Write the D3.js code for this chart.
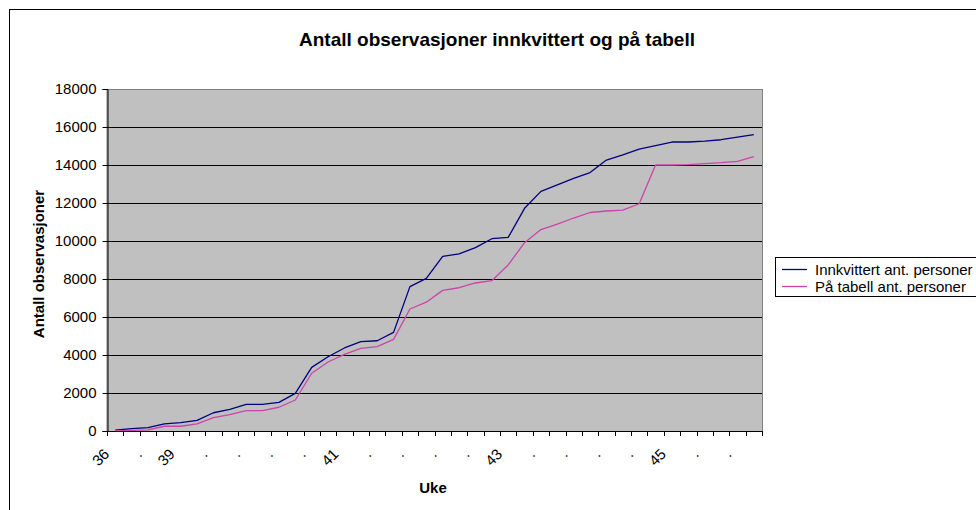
<!DOCTYPE html>
<html><head><meta charset="utf-8">
<script src="https://cdn.jsdelivr.net/npm/d3@7"></script>
<style>body{margin:0;background:#fff;} svg{display:block;font-family:Arial,"Liberation Sans",sans-serif;}</style>
</head><body><svg id="c" width="976" height="510"></svg>
<script>
const categories = ["36",".",".",".","39",".",".",".",".",".",
                    ".",".",".",".","41",".",".",".",".",".",
                    ".",".",".",".","43",".",".",".",".",".",
                    ".",".",".",".","45",".",".",".",".","."];
const innkvittert = [50,120,175,370,440,560,960,1140,1400,1400,
                     1510,1980,3350,3910,4370,4700,4750,5190,7600,8030,
                     9190,9320,9650,10120,10190,11720,12610,12950,13300,13600,
                     14260,14530,14840,15020,15210,15210,15260,15330,15470,15600];
const paTabell = [20,30,60,250,250,370,700,860,1070,1070,
                  1250,1630,3040,3630,4030,4350,4440,4820,6420,6780,
                  7400,7540,7790,7910,8740,9910,10600,10890,11210,11500,
                  11580,11630,11960,14000,14000,14020,14070,14120,14190,14440];
const yTicks = [0,2000,4000,6000,8000,10000,12000,14000,16000,18000];
const seriesNames = ["Innkvittert ant. personer","På tabell ant. personer"];
const seriesColors = ["#000080","#cc44aa"];
const titleText = "Antall observasjoner innkvittert og på tabell";
const yTitle = "Antall observasjoner";
const xTitle = "Uke";

const svg = d3.select("#c");
const P = {left:107, right:762, top:89, bottom:431};

// chart frame
svg.append("rect").attr("x",9.5).attr("y",9.5).attr("width",1000).attr("height",600)
  .attr("fill","#fff").attr("stroke","#000").attr("stroke-width",1);

const idx = d3.range(categories.length);
const x = d3.scaleBand().domain(idx).range([P.left,P.right]).padding(0);
const bw = x.bandwidth();
const y = d3.scaleLinear().domain([0,18000]).range([P.bottom,P.top]);

// plot background
svg.append("rect").attr("x",P.left).attr("y",P.top+0.5).attr("width",P.right-P.left+0.5).attr("height",P.bottom-P.top)
  .attr("fill","#c0c0c0").attr("stroke","#808080").attr("stroke-width",1);

// gridlines
svg.append("g").selectAll("line").data(yTicks.filter(t=>t>0 && t<18000)).join("line")
  .attr("x1",P.left).attr("x2",P.right).attr("y1",d=>Math.round(y(d))+0.5).attr("y2",d=>Math.round(y(d))+0.5)
  .attr("stroke","#000").attr("stroke-width",1);

// y axis
const ya = svg.append("g").attr("transform",`translate(${P.left+0.5},0)`)
  .call(d3.axisLeft(y).tickValues(yTicks).tickSize(5).tickPadding(6).tickFormat(d3.format("d")));
ya.selectAll("path").attr("stroke","#000");
ya.selectAll("line").attr("stroke","#000");
ya.selectAll("text").attr("font-size","15px").attr("fill","#000").attr("font-family","Arial, 'Liberation Sans', sans-serif");

// x axis line
svg.append("line").attr("x1",P.left).attr("x2",P.right+0.5).attr("y1",P.bottom+0.5).attr("y2",P.bottom+0.5).attr("stroke","#000");
// x ticks at category boundaries
const bounds = idx.map(i=>x(i)).concat([P.right]);
svg.append("g").selectAll("line").data(bounds).join("line")
  .attr("x1",d=>Math.round(d)+0.5).attr("x2",d=>Math.round(d)+0.5).attr("y1",P.bottom).attr("y2",P.bottom+5)
  .attr("stroke","#000");
// x labels (every other category)
svg.append("g").selectAll("text").data(idx.filter(i=>i%2===0)).join("text")
  .attr("transform",i=>`translate(${x(i)+bw/2-5},455) rotate(-45)`)
  .attr("text-anchor","end").attr("font-size","15px").attr("fill","#000")
  .text(i=>categories[i]);

// series lines
const line = d3.line().x((d,i)=>x(i)+bw/2).y(d=>y(d));
[innkvittert,paTabell].forEach((s,k)=>{
  svg.append("path").datum(s).attr("d",line).attr("fill","none")
    .attr("stroke",seriesColors[k]).attr("stroke-width",1.3).attr("stroke-linejoin","round");
});

// titles
svg.append("text").attr("x",497).attr("y",46).attr("text-anchor","middle")
  .attr("font-size","19px").attr("font-weight","bold").text(titleText);
svg.append("text").attr("transform","translate(38,264) rotate(-90)").attr("text-anchor","middle")
  .attr("dominant-baseline","central").attr("font-size","15px").attr("font-weight","bold").text(yTitle);
svg.append("text").attr("x",433).attr("y",493).attr("text-anchor","middle")
  .attr("font-size","15px").attr("font-weight","bold").text(xTitle);

// legend
const lg = svg.append("g");
lg.append("rect").attr("x",775.5).attr("y",257.5).attr("width",300).attr("height",39)
  .attr("fill","#fff").attr("stroke","#000");
seriesNames.forEach((n,k)=>{
  const cy = 269 + k*17;
  lg.append("line").attr("x1",782).attr("x2",807).attr("y1",cy+0.5).attr("y2",cy+0.5)
    .attr("stroke",seriesColors[k]).attr("stroke-width",1.3);
  lg.append("text").attr("x",815).attr("y",cy).attr("dominant-baseline","central")
    .attr("font-size","15px").text(n);
});
</script></body></html>
